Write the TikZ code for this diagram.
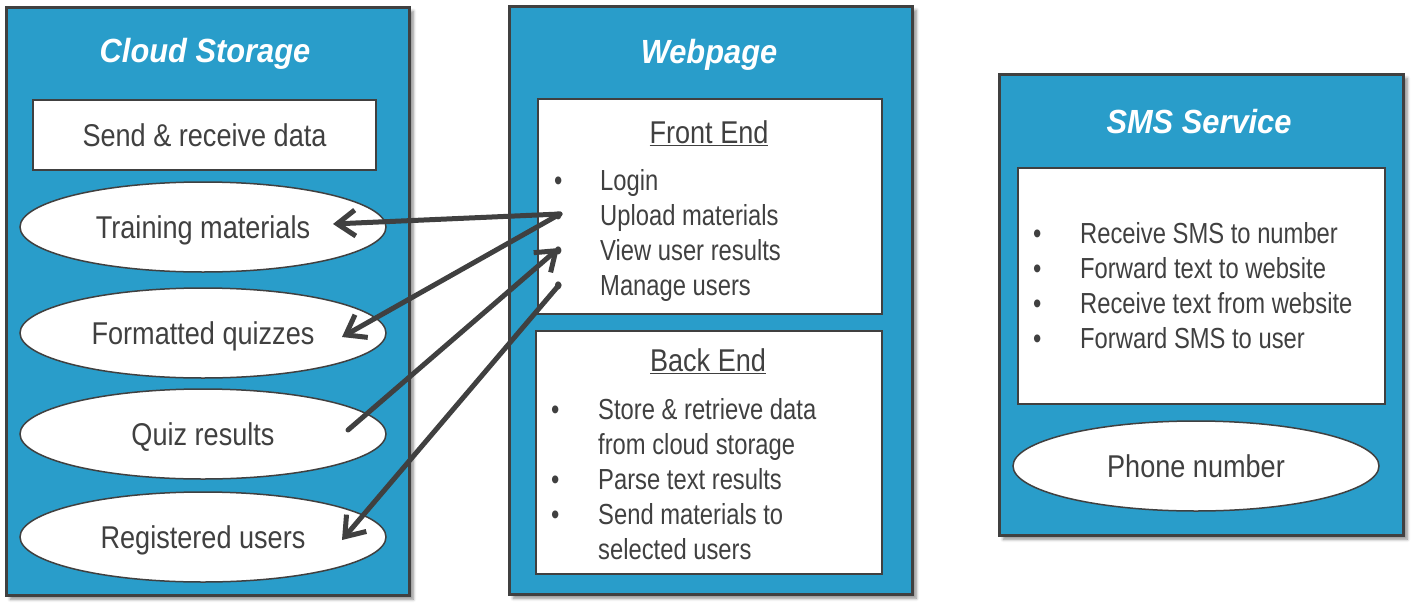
\documentclass[tikz,border=0pt]{standalone}
\usepackage{fontspec}
\setmainfont{Liberation Sans}
\newfontfamily\bodyfont{Liberation Sans}[FakeStretch=0.82]
\newfontfamily\midfont{Liberation Sans}[FakeStretch=0.86]
\newfontfamily\headfont{Liberation Sans}[FakeStretch=0.92]
\usetikzlibrary{arrows.meta,shapes.geometric,shadows.blur}
\definecolor{boxblue}{RGB}{41,157,202}
\definecolor{ink}{RGB}{64,64,64}
\newcommand\listbullet[1]{\makebox[#1][l]{•}}
\tikzset{
 outerbox/.style={draw=ink, line width=2.5pt, fill=boxblue, rectangle, anchor=north west, inner sep=0pt,
   blur shadow={shadow xshift=4pt, shadow yshift=-4pt, shadow blur radius=3pt, shadow opacity=45}},
 innerbox/.style={draw=ink, line width=2pt, fill=white, rectangle, anchor=north west, inner sep=0pt},
 oval/.style={draw=ink, line width=1.5pt, fill=white, ellipse, minimum width=366pt, minimum height=90pt,
   inner sep=0pt, text=ink, font=\midfont\fontsize{31.5}{35}\selectfont, text height=22pt, text depth=0pt},
 boxtext/.style={text=ink, font=\midfont\fontsize{31.5}{35}\selectfont, text height=22pt, text depth=0pt},
 title/.style={anchor=base, text=white, font=\headfont\bfseries\itshape\fontsize{33.5}{38}\selectfont, inner sep=0pt},
 heading/.style={anchor=base, text=ink, font=\midfont\fontsize{31.5}{35}\selectfont, inner sep=0pt},
 list/.style={anchor=north west, text=ink, font=\bodyfont\fontsize{29}{35}\selectfont, inner sep=0pt},
 conn/.style={draw=ink, line width=5pt, line cap=round, -{Straight Barb[length=18pt,width=26pt]}}
}
\begin{document}
\begin{tikzpicture}[x=1pt,y=-1pt]
\useasboundingbox (0,0) rectangle (1416,608);
% outer boxes
\node[outerbox, minimum width=403pt, minimum height=588pt] (cloud) at (5,6) {};
\node[outerbox, minimum width=403pt, minimum height=588pt] (web) at (508,5) {};
\node[outerbox, minimum width=404pt, minimum height=461pt] (sms) at (998,73) {};
% titles
\node[title] (cloudtitle) at (205,62) {Cloud Storage};
\node[title] (webtitle) at (709,63) {Webpage};
\node[title] (smstitle) at (1199,133) {SMS Service};
% cloud storage contents
\node[innerbox, boxtext, minimum width=343pt, minimum height=70pt] (send) at (32,99) {Send \& receive data};
\node[oval] (tm) at (203,227) {Training materials};
\node[oval] (fq) at (203,333) {Formatted quizzes};
\node[oval] (qr) at (203,434) {Quiz results};
\node[oval] (ru) at (203,537) {Registered users};
% webpage contents
\node[innerbox, minimum width=344pt, minimum height=215pt] (front) at (537,98) {};
\node[innerbox, minimum width=346pt, minimum height=243pt] (back) at (535,330) {};
\node[heading] (fronthead) at (709,143) {\underline{Front End}};
\node[heading] (backhead) at (708,371) {\underline{Back End}};
\node[list] (frontlist) at (554,166) {\begin{tabular}{@{}l@{}}
\listbullet{46pt}Login\\
\listbullet{46pt}Upload materials\\
\listbullet{46pt}View user results\\
\listbullet{46pt}Manage users
\end{tabular}};
\node[list] (backlist) at (551,394.5) {\begin{tabular}{@{}l@{}}
\listbullet{47pt}Store \& retrieve data\\
\hspace*{47pt}from cloud storage\\
\listbullet{47pt}Parse text results\\
\listbullet{47pt}Send materials to\\
\hspace*{47pt}selected users
\end{tabular}};
% sms contents
\node[innerbox, minimum width=367pt, minimum height=236pt] (smsbox) at (1017,167) {};
\node[list] (smslist) at (1033,218.5) {\begin{tabular}{@{}l@{}}
\listbullet{47pt}Receive SMS to number\\
\listbullet{47pt}Forward text to website\\
\listbullet{47pt}Receive text from website\\
\listbullet{47pt}Forward SMS to user
\end{tabular}};
\node[oval] (phone) at (1196,466) {Phone number};
% connector end points
\coordinate (b2) at (560,214);
\coordinate (b3) at (559,248);
\coordinate (b4) at (559,285);
\coordinate (tmend) at ([shift={(130,-3)}]tm.center);
\coordinate (fqend) at ([shift={(139,4)}]fq.center);
\coordinate (qrstart) at ([shift={(145,-4)}]qr.center);
\coordinate (ruend) at ([shift={(139,3)}]ru.center);
% connectors
\draw[conn] (b2) -- (tmend);
\draw[conn] (b2) -- (fqend);
\draw[conn] (qrstart) -- (b3);
\draw[conn] (b4) -- (ruend);
\end{tikzpicture}
\end{document}
